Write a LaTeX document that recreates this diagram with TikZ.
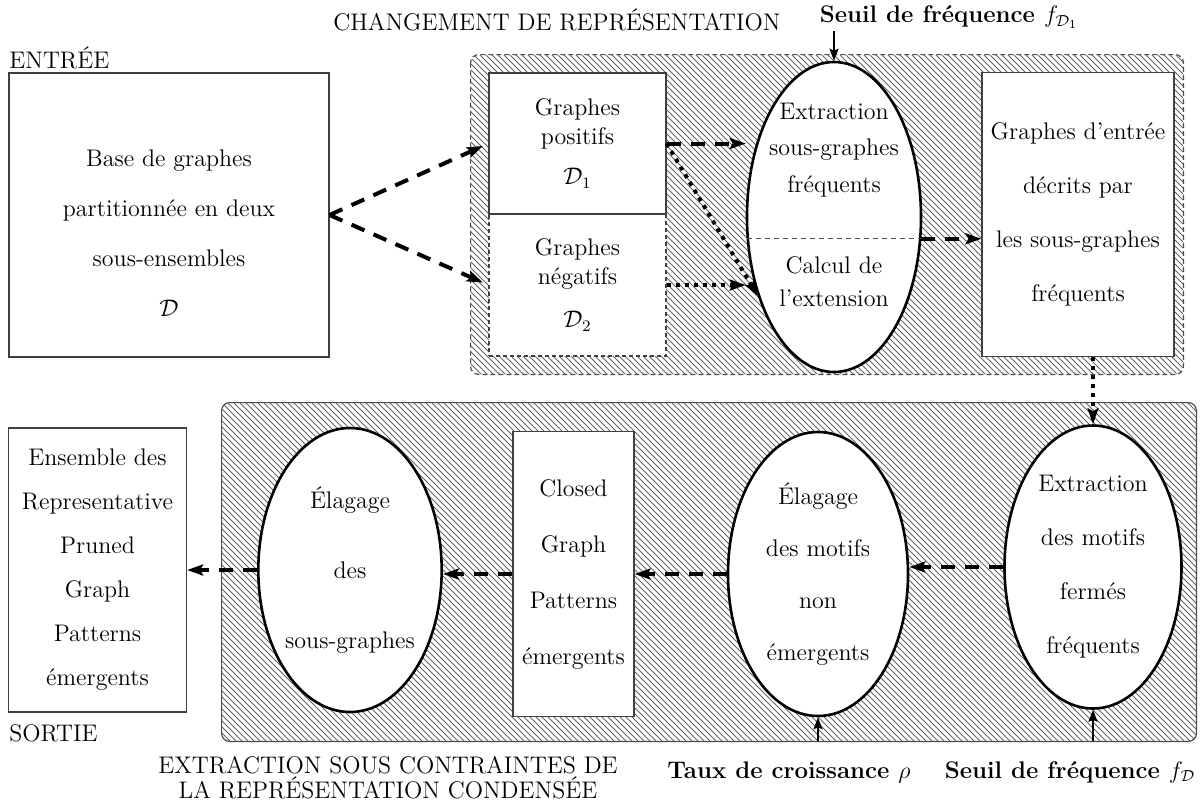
\documentclass[tikz,border=0pt]{standalone}
\usepackage{fontspec}
\usetikzlibrary{arrows.meta,patterns,shapes.geometric}
\begin{document}
\begin{tikzpicture}[x=0.5pt,y=-0.5pt, font=\fontsize{12}{14.4}\selectfont,
  grp/.style={rectangle, pattern=north west lines, pattern color=black!60, rounded corners=4pt, inner sep=0pt},
  grpborder/.style={draw=black!70, line width=0.6pt, rounded corners=4pt},
  box/.style={rectangle, draw=black!75, line width=0.6pt, fill=white, inner sep=0pt},
  ell/.style={ellipse, draw=black, line width=1.3pt, fill=white, inner sep=0pt},
  txt/.style={align=center, inner sep=0pt},
  capt/.style={align=center, inner sep=0pt},
  boldlab/.style={inner sep=1pt, font=\fontsize{12}{14.4}\selectfont\bfseries},
  flowdash/.style={line width=2pt, dash pattern=on 7pt off 5pt, -{Stealth[length=8pt,width=5.5pt,inset=1.5pt]}},
  flowdot/.style={line width=2pt, dash pattern=on 2pt off 2.5pt, -{Stealth[length=8pt,width=5.5pt,inset=1.5pt]}},
  param/.style={line width=0.8pt, -{Stealth[length=6pt,width=4.5pt,inset=1pt]}},
]
\useasboundingbox (0,0) rectangle (1200,805);

% hatched groups
\node[grp, minimum width=356pt, minimum height=159.5pt] (g1) at (827,214.5) {};
\draw[grpborder, dash pattern=on 2.5pt off 1.5pt] (g1.north west) rectangle (g1.south east);
\node[grp, minimum width=487pt, minimum height=169pt] (g2) at (709,572) {};
\draw[grpborder] (g2.north west) rectangle (g2.south east);

% captions
\node[capt, anchor=west] (entree) at (9,58) {ENTRÉE};
\node[capt, anchor=west] (chg) at (333,20) {CHANGEMENT DE REPRÉSENTATION};
\node[capt, anchor=west] (sortie) at (9,733) {SORTIE};
\node[capt, font=\fontsize{12}{12.5}\selectfont] (extr) at (388,778) {EXTRACTION SOUS CONTRAINTES DE\\LA REPRÉSENTATION CONDENSÉE};
\node[boldlab] (sf1) at (949,17) {Seuil de fréquence \mdseries$f_{\mathcal{D}_1}$};
\node[boldlab] (taux) at (789,772) {Taux de croissance \mdseries$\rho$};
\node[boldlab] (sf) at (1070,772) {Seuil de fréquence \mdseries$f_{\mathcal{D}}$};

% input
\node[box, minimum width=160pt, minimum height=142pt] (in) at (169,215) {};
\node[txt] (intxt) at (169,233) {Base de graphes\\[10.5pt]partitionnée en deux\\[10.5pt]sous-ensembles\\[10.5pt]$\mathcal{D}$};

% positive / negative
\node[box, dash pattern=on 2pt off 1.5pt, minimum width=88.5pt, minimum height=71pt, align=center] (neg) at (577.5,285) {Graphes\\négatifs\\[7pt]$\mathcal{D}_2$};
\node[box, minimum width=88.5pt, minimum height=70.5pt, align=center] (pos) at (577.5,143.5) {Graphes\\positifs\\[6pt]$\mathcal{D}_1$};

% extraction ellipse
\node[ell, minimum width=87pt, minimum height=155pt] (ext) at (834,217) {};
\node[txt] (exttop) at (834,150) {Extraction\\[4pt]sous-graphes\\[4pt]fréquents};
\node[txt] (extbot) at (834,282) {Calcul de\\[2pt]l'extension};
\draw[black!70, line width=0.5pt, dash pattern=on 2.5pt off 2pt] (ext.194) -- (ext.346);

% described graphs
\node[box, minimum width=96pt, minimum height=142pt, align=center] (dec) at (1078,214.5) {Graphes d'entrée\\[12.5pt]décrits par\\[12.5pt]les sous-graphes\\[12.5pt]fréquents};

% bottom row
\node[box, minimum width=89pt, minimum height=142pt, align=center] (out) at (97.5,570) {Ensemble des\\[7.6pt]Representative\\[7.6pt]Pruned\\[7.6pt]Graph\\[7.6pt]Patterns\\[7.6pt]émergents};
\node[ell, minimum width=88pt, minimum height=142pt, align=center] (e1) at (350,570) {Élagage\\[20.5pt]des\\[20.5pt]sous-graphes};
\node[box, minimum width=60.5pt, minimum height=142.5pt, align=center] (cl) at (573.5,574) {Closed\\[13.6pt]Graph\\[13.6pt]Patterns\\[13.6pt]émergents};
\node[ell, minimum width=90pt, minimum height=142pt, align=center] (e2) at (818,574) {Élagage\\[11.6pt]des motifs\\[11.6pt]non\\[11.6pt]émergents};
\node[ell, minimum width=88.5pt, minimum height=141.5pt, align=center] (e3) at (1093,567) {Extraction\\[12.6pt]des motifs\\[12.6pt]fermés\\[12.6pt]fréquents};

% connectors
\draw[flowdash, shorten >=3pt] (in.east) -- (pos.west);
\draw[flowdash, shorten >=3pt] (in.east) -- (neg.west);
\draw[flowdash] (pos.east) -- (pos.east -| ext.west);
\draw[flowdot] (pos.east) -- (ext.226);
\draw[flowdot] (neg.east) -- (neg.east -| ext.west);
\draw[flowdash] (ext.346) -- (ext.346 -| dec.west);
\draw[flowdot] (dec.south -| e3.north) -- (e3.north);
\draw[flowdash] (e3.west) -- (e3.west -| e2.east);
\draw[flowdash] (e2.west) -- (e2.west -| cl.east);
\draw[flowdash] (cl.west) -- (cl.west -| e1.east);
\draw[flowdash] (e1.west) -- (e1.west -| out.east);

\draw[param] (sf1.south -| ext.north) -- (ext.north);
\draw[param] (e2.south |- g2.south) -- (e2.south);
\draw[param] (e3.south |- g2.south) -- (e3.south);
\end{tikzpicture}
\end{document}
